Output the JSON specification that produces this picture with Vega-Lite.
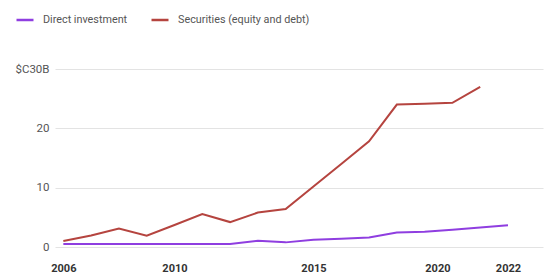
{
  "$schema": "https://vega.github.io/schema/vega-lite/v6.json",
  "width": 488,
  "height": 178,
  "autosize": {"type": "none"},
  "padding": {"left": 55, "top": 69, "right": 5, "bottom": 28},
  "background": "#ffffff",
  "config": {
    "font": "Roboto",
    "view": {"stroke": null}
  },
  "data": {
    "values": [
      {"year": 2006, "series": "Direct investment", "value": 0.5},
      {"year": 2007, "series": "Direct investment", "value": 0.5},
      {"year": 2008, "series": "Direct investment", "value": 0.5},
      {"year": 2009, "series": "Direct investment", "value": 0.5},
      {"year": 2010, "series": "Direct investment", "value": 0.5},
      {"year": 2011, "series": "Direct investment", "value": 0.5},
      {"year": 2012, "series": "Direct investment", "value": 0.5},
      {"year": 2013, "series": "Direct investment", "value": 1.05},
      {"year": 2014, "series": "Direct investment", "value": 0.78},
      {"year": 2015, "series": "Direct investment", "value": 1.23},
      {"year": 2016, "series": "Direct investment", "value": 1.4},
      {"year": 2017, "series": "Direct investment", "value": 1.6},
      {"year": 2018, "series": "Direct investment", "value": 2.45},
      {"year": 2019, "series": "Direct investment", "value": 2.58},
      {"year": 2020, "series": "Direct investment", "value": 2.9},
      {"year": 2021, "series": "Direct investment", "value": 3.3},
      {"year": 2022, "series": "Direct investment", "value": 3.65},
      {"year": 2006, "series": "Securities (equity and debt)", "value": 1.0},
      {"year": 2007, "series": "Securities (equity and debt)", "value": 1.95},
      {"year": 2008, "series": "Securities (equity and debt)", "value": 3.1},
      {"year": 2009, "series": "Securities (equity and debt)", "value": 1.9},
      {"year": 2010, "series": "Securities (equity and debt)", "value": 3.7},
      {"year": 2011, "series": "Securities (equity and debt)", "value": 5.55},
      {"year": 2012, "series": "Securities (equity and debt)", "value": 4.2},
      {"year": 2013, "series": "Securities (equity and debt)", "value": 5.8},
      {"year": 2014, "series": "Securities (equity and debt)", "value": 6.4},
      {"year": 2015, "series": "Securities (equity and debt)", "value": 10.2},
      {"year": 2016, "series": "Securities (equity and debt)", "value": 14.0},
      {"year": 2017, "series": "Securities (equity and debt)", "value": 17.8},
      {"year": 2018, "series": "Securities (equity and debt)", "value": 24.0},
      {"year": 2019, "series": "Securities (equity and debt)", "value": 24.15},
      {"year": 2020, "series": "Securities (equity and debt)", "value": 24.3},
      {"year": 2021, "series": "Securities (equity and debt)", "value": 27.0}
    ]
  },
  "mark": {"type": "line", "strokeWidth": 2},
  "encoding": {
    "x": {
      "field": "year",
      "type": "quantitative",
      "scale": {"domain": [2005.7, 2023.26], "nice": false, "zero": false},
      "axis": {
        "title": null,
        "values": [2006, 2010, 2015, 2020, 2022],
        "format": "d",
        "grid": false,
        "domain": false,
        "ticks": false,
        "labelFontWeight": "bold",
        "labelFontSize": 11,
        "labelColor": "#333333",
        "labelPadding": 15,
        "labelOffset": {"condition": {"test": "datum.value == 2020", "value": -15}, "value": 0}
      }
    },
    "y": {
      "field": "value",
      "type": "quantitative",
      "scale": {"domain": [0, 30], "nice": false},
      "axis": {
        "title": null,
        "values": [0, 10, 20, 30],
        "labelExpr": "datum.value == 30 ? '$C30B' : datum.label",
        "grid": true,
        "gridColor": "#e3e3e3",
        "domain": false,
        "ticks": false,
        "labelFontSize": 11.5,
        "labelColor": "#555555",
        "labelPadding": 6
      }
    },
    "color": {
      "field": "series",
      "type": "nominal",
      "scale": {
        "domain": ["Direct investment", "Securities (equity and debt)"],
        "range": ["#8f3ee0", "#b5443f"]
      },
      "legend": {
        "title": null,
        "orient": "none",
        "direction": "horizontal",
        "legendX": -40,
        "legendY": -59,
        "symbolType": "stroke",
        "symbolSize": 289,
        "symbolStrokeWidth": 2.5,
        "labelFontSize": 10.8,
        "labelColor": "#555555",
        "labelOffset": 8,
        "columnPadding": 18
      }
    }
  }
}
